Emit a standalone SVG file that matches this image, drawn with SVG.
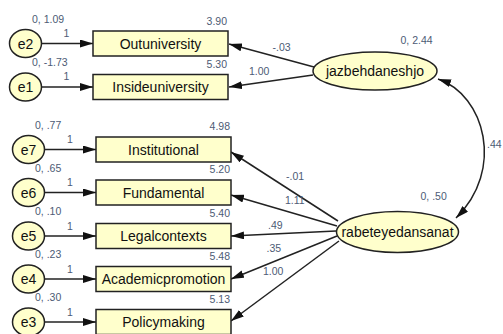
<svg xmlns="http://www.w3.org/2000/svg" width="503" height="334" viewBox="0 0 503 334">
<defs>
<marker id="ah" viewBox="0 0 13 8" refX="13" refY="4" markerWidth="13" markerHeight="8" markerUnits="userSpaceOnUse" orient="auto-start-reverse"><path d="M0,0 L13,4 L0,8 z" fill="#111"/></marker>
</defs>
<style>
.n{fill:#ffffcc;stroke:#222;stroke-width:1.5}
.t{font-family:"Liberation Sans",Arial,sans-serif;font-size:14px;fill:#111;text-anchor:middle}
.l{font-family:"Liberation Sans",Arial,sans-serif;font-size:10.5px;fill:#4d5b75}
.r{text-anchor:end}
.c{stroke:#222;stroke-width:1.5;fill:none;marker-end:url(#ah)}
.d{marker-start:url(#ah)}
</style>
<rect width="503" height="334" fill="#fff"/>
<g id="connectors">
<line class="c" x1="41.5" y1="43.5" x2="93" y2="43.5"/>
<line class="c" x1="41.5" y1="87" x2="93" y2="87"/>
<line class="c" x1="44.5" y1="149.5" x2="96" y2="149.5"/>
<line class="c" x1="44.5" y1="192.5" x2="96" y2="192.5"/>
<line class="c" x1="44.5" y1="236" x2="96" y2="236"/>
<line class="c" x1="44.5" y1="279" x2="96" y2="279"/>
<line class="c" x1="44.5" y1="322" x2="96" y2="322"/>
<line class="c" x1="314" y1="67" x2="229" y2="44"/>
<line class="c" x1="313" y1="75" x2="229" y2="87"/>
<line class="c" x1="338" y1="221" x2="231" y2="152"/>
<line class="c" x1="337" y1="226" x2="231" y2="195"/>
<line class="c" x1="336" y1="231" x2="231" y2="236"/>
<line class="c" x1="337" y1="236" x2="231" y2="279"/>
<line class="c" x1="339" y1="241" x2="231" y2="321"/>
<path class="c d" d="M438,79 C485,95 505,170 456,218"/>
<text class="l" x="63.5" y="36.5">1</text>
<text class="l" x="63.5" y="80">1</text>
<text class="l" x="67" y="143">1</text>
<text class="l" x="67" y="186">1</text>
<text class="l" x="67" y="229.5">1</text>
<text class="l" x="67" y="272.5">1</text>
<text class="l" x="67" y="315.5">1</text>
<text class="l" x="272.5" y="50.5">-.03</text>
<text class="l" x="249" y="75">1.00</text>
<text class="l" x="286" y="180">-.01</text>
<text class="l" x="285" y="203.5">1.11</text>
<text class="l" x="268" y="228.5">.49</text>
<text class="l" x="266.5" y="251.5">.35</text>
<text class="l" x="263" y="275">1.00</text>
<text class="l" x="487" y="148">.44</text>
</g>
<g id="e2"><ellipse class="n" cx="25.5" cy="43.5" rx="16" ry="14"/><text class="t" x="25.5" y="48.5">e2</text><text class="l" x="32" y="22.5">0, 1.09</text></g>
<g id="e1"><ellipse class="n" cx="25.5" cy="87" rx="16" ry="14"/><text class="t" x="25.5" y="92">e1</text><text class="l" x="32" y="66">0, -1.73</text></g>
<g id="e7"><ellipse class="n" cx="28.5" cy="149.5" rx="16" ry="14"/><text class="t" x="28.5" y="154.5">e7</text><text class="l" x="35" y="128.5">0, .77</text></g>
<g id="e6"><ellipse class="n" cx="28.5" cy="192.5" rx="16" ry="14"/><text class="t" x="28.5" y="197.5">e6</text><text class="l" x="35" y="171.5">0, .65</text></g>
<g id="e5"><ellipse class="n" cx="28.5" cy="236" rx="16" ry="14"/><text class="t" x="28.5" y="241">e5</text><text class="l" x="35" y="215">0, .10</text></g>
<g id="e4"><ellipse class="n" cx="28.5" cy="279" rx="16" ry="14"/><text class="t" x="28.5" y="284">e4</text><text class="l" x="35" y="258">0, .23</text></g>
<g id="e3"><ellipse class="n" cx="28.5" cy="322" rx="16" ry="14"/><text class="t" x="28.5" y="327">e3</text><text class="l" x="35" y="301">0, .30</text></g>
<g id="Outuniversity"><rect class="n" x="93" y="31" width="135" height="25"/><text class="t" x="160.5" y="48.5">Outuniversity</text><text class="l r" x="227" y="25">3.90</text></g>
<g id="Insideuniversity"><rect class="n" x="93" y="74.5" width="135" height="25"/><text class="t" x="160.5" y="92">Insideuniversity</text><text class="l r" x="227" y="67.5">5.30</text></g>
<g id="Institutional"><rect class="n" x="96" y="137" width="135" height="25"/><text class="t" x="163.5" y="154.5">Institutional</text><text class="l r" x="230" y="130">4.98</text></g>
<g id="Fundamental"><rect class="n" x="96" y="180" width="135" height="25"/><text class="t" x="163.5" y="197.5">Fundamental</text><text class="l r" x="230" y="173">5.20</text></g>
<g id="Legalcontexts"><rect class="n" x="96" y="223.5" width="135" height="25"/><text class="t" x="163.5" y="241">Legalcontexts</text><text class="l r" x="230" y="216.5">5.40</text></g>
<g id="Academicpromotion"><rect class="n" x="96" y="266.5" width="135" height="25"/><text class="t" x="163.5" y="284">Academicpromotion</text><text class="l r" x="230" y="259.5">5.48</text></g>
<g id="Policymaking"><rect class="n" x="96" y="309.5" width="135" height="25"/><text class="t" x="163.5" y="327">Policymaking</text><text class="l r" x="230" y="302.5">5.13</text></g>
<g id="jazbehdaneshjo"><ellipse class="n" cx="375" cy="71" rx="62" ry="19"/><text class="t" x="375" y="76">jazbehdaneshjo</text><text class="l" x="400.5" y="43.5">0, 2.44</text></g>
<g id="rabeteyedansanat"><ellipse class="n" cx="397.5" cy="232" rx="61" ry="20.5"/><text class="t" x="397.5" y="237">rabeteyedansanat</text><text class="l" x="420.5" y="199.5">0, .50</text></g>
</svg>
